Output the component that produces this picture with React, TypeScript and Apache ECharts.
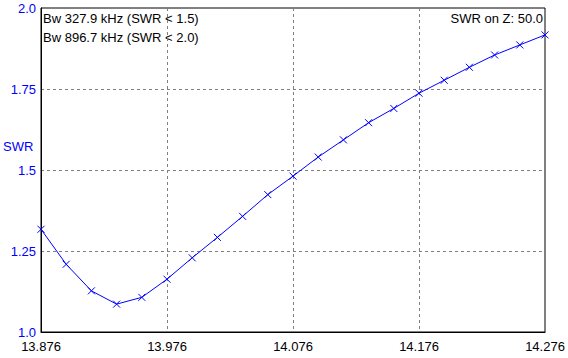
import React, { useEffect, useRef } from "react";
import * as echarts from "echarts";

const freqs = [13.876, 13.896, 13.916, 13.936, 13.956, 13.976, 13.996, 14.016, 14.036, 14.056, 14.076, 14.096, 14.116, 14.136, 14.156, 14.176, 14.196, 14.216, 14.236, 14.256, 14.276];
const swr = [1.317, 1.209, 1.127, 1.086, 1.107, 1.163, 1.229, 1.292, 1.357, 1.424, 1.481, 1.540, 1.593, 1.646, 1.690, 1.737, 1.777, 1.817, 1.855, 1.886, 1.917];
const infoLines = ["Bw 327.9 kHz (SWR < 1.5)", "Bw 896.7 kHz (SWR < 2.0)"];
const zLabel = "SWR on Z: 50.0";
const yName = "SWR";

const FONT = "Arial, 'Liberation Sans', sans-serif";

export default function App() {
  const ref = useRef<HTMLDivElement>(null);
  useEffect(() => {
    if (!ref.current) return;
    const chart = echarts.init(ref.current, undefined, { renderer: "svg" });
    chart.setOption({
      animation: false,
      backgroundColor: "#ffffff",
      grid: {
        left: 41, right: 23, top: 8, bottom: 26,
        show: true, borderColor: "#000000", borderWidth: 1, backgroundColor: "transparent",
      },
      xAxis: {
        type: "value",
        min: 13.876,
        max: 14.276,
        interval: 0.1,
        axisLine: { show: true, lineStyle: { color: "#000000", width: 1 } },
        axisTick: { show: false },
        axisLabel: {
          color: "#000000", fontSize: 13, fontFamily: FONT, margin: 8,
          formatter: (v: number) => v.toFixed(3),
        },
        splitLine: { show: true, lineStyle: { color: "#808080", type: [3, 3], width: 1 } },
      },
      yAxis: {
        type: "value",
        min: 1,
        max: 2,
        interval: 0.25,
        axisLine: { show: true, lineStyle: { color: "#000000", width: 1 } },
        axisTick: { show: false },
        axisLabel: {
          color: "#0000ff", fontSize: 13, fontFamily: FONT, margin: 5,
          formatter: (v: number) => (Math.abs(v - Math.round(v)) < 1e-9 ? v.toFixed(1) : String(+v.toFixed(2))),
        },
        splitLine: { show: true, lineStyle: { color: "#808080", type: [3, 3], width: 1 } },
      },
      series: [
        {
          type: "line",
          data: freqs.map((f, i) => [f, swr[i]]),
          symbol: "path://M0,0L10,10M10,0L0,10",
          symbolSize: 7,
          showAllSymbol: true,
          lineStyle: { color: "#0000ff", width: 1 },
          itemStyle: { color: "none", borderColor: "#0000ff", borderWidth: 1 },
        },
      ],
      graphic: [
        {
          type: "text", left: 3, top: 140,
          style: { text: yName, fill: "#0000ff", font: `13px ${FONT}` },
        },
        {
          type: "text", left: 43, top: 12,
          style: { text: infoLines[0], fill: "#000000", font: `13px ${FONT}` },
        },
        {
          type: "text", left: 43, top: 31,
          style: { text: infoLines[1], fill: "#000000", font: `13px ${FONT}` },
        },
        {
          type: "text", right: 25, top: 12,
          style: { text: zLabel, fill: "#000000", font: `13px ${FONT}` },
        },
      ],
    });
    return () => chart.dispose();
  }, []);
  return <div ref={ref} style={{ width: 568, height: 358, position: "absolute", left: 0, top: 0 }} />;
}
